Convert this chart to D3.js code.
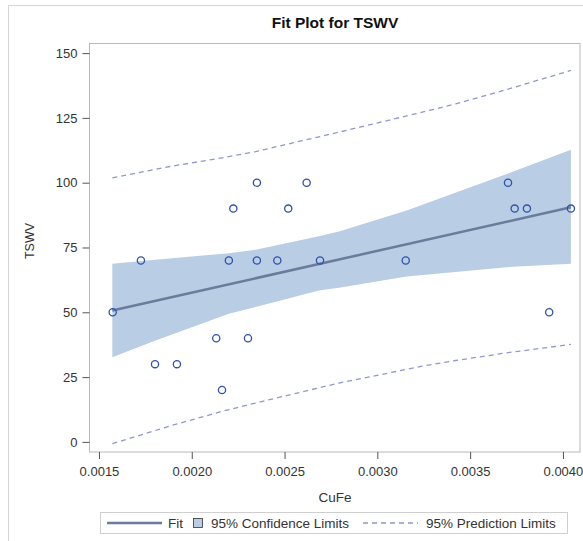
<!DOCTYPE html>
<html>
<head>
<meta charset="utf-8">
<script src="https://cdnjs.cloudflare.com/ajax/libs/d3/7.8.5/d3.min.js"></script>
<style>
  body { margin: 0; background: #fff; }
  text { font-family: "Liberation Sans", Arial, sans-serif; }
</style>
</head>
<body>
<div id="chart"></div>
<script>
// observed data
const cuFe = [0.001574, 0.001726, 0.001802, 0.00192, 0.002132, 0.002163, 0.0022, 0.002224,
  0.002303, 0.002351, 0.002351, 0.002461, 0.00252, 0.002619, 0.002691, 0.003153,
  0.003704, 0.00374, 0.003806, 0.003926, 0.004043];
const tswv = [50, 70, 30, 30, 40, 20, 70, 90, 40, 100, 70, 70, 90, 100, 70, 70,
  100, 90, 90, 50, 90];

// fit line
const fitX = [0.001572, 0.004043];
const fitY = [50.7, 90.5];

// 95% confidence band
const clX = [0.001572, 0.001805, 0.0022, 0.002344, 0.002685, 0.002793, 0.003158, 0.003697, 0.004043];
const clUpper = [68.7, 70.3, 72.8, 74.1, 79.3, 81.2, 89.3, 103.4, 112.7];
const clLower = [32.7, 39.1, 49.4, 52.0, 58.4, 59.5, 63.8, 67.4, 68.7];

// 95% prediction limits
const plX = [0.001572, 0.001895, 0.002164, 0.002344, 0.002793, 0.003242, 0.003422, 0.003691, 0.004043];
const plUpper = [101.9, 106.4, 109.6, 112.0, 119.5, 127.2, 130.4, 135.8, 143.3];
const plLower = [-0.7, 6.4, 11.8, 15.0, 22.7, 29.2, 31.4, 34.3, 37.6];

const xTicks = [0.0015, 0.002, 0.0025, 0.003, 0.0035, 0.004];
const yTicks = [0, 25, 50, 75, 100, 125, 150];

const width = 583;
const height = 541;
const margin = { left: 89.5, right: 3, top: 43.5, bottom: 89 };

const svg = d3.select('#chart')
  .append('svg')
  .attr('width', width)
  .attr('height', height);

// outer border
svg.append('path')
  .attr('d', `M8.5,${height} V5.5 H${width}`)
  .attr('fill', 'none')
  .attr('stroke', '#d4d4d4');

const x = d3.scaleLinear()
  .domain([0.001449, 0.004092])
  .range([margin.left, width - margin.right]);

const y = d3.scaleLinear()
  .domain([-3.9, 153.7])
  .range([height - margin.bottom, margin.top]);

svg.append('defs').append('clipPath')
  .attr('id', 'clip')
  .append('rect')
  .attr('x', margin.left)
  .attr('y', margin.top)
  .attr('width', x.range()[1] - margin.left)
  .attr('height', y.range()[0] - margin.top);

const plot = svg.append('g').attr('clip-path', 'url(#clip)');

// confidence band
const band = d3.area()
  .x((d, i) => x(clX[i]))
  .y0((d, i) => y(clLower[i]))
  .y1((d, i) => y(clUpper[i]));

plot.append('path')
  .attr('d', band(clX))
  .attr('fill', '#b9cde5');

// prediction limits
const plLine = vals => d3.line()
  .x((d, i) => x(plX[i]))
  .y((d, i) => y(vals[i]))(plX);

[plUpper, plLower].forEach(vals => {
  plot.append('path')
    .attr('d', plLine(vals))
    .attr('fill', 'none')
    .attr('stroke', '#8f98cc')
    .attr('stroke-width', 1.3)
    .attr('stroke-dasharray', '5,4');
});

// fit line
plot.append('path')
  .attr('d', d3.line().x((d, i) => x(fitX[i])).y((d, i) => y(fitY[i]))(fitX))
  .attr('fill', 'none')
  .attr('stroke', '#6a7b9b')
  .attr('stroke-width', 2.5);

// observations
svg.append('g')
  .selectAll('circle')
  .data(cuFe)
  .enter()
  .append('circle')
  .attr('cx', d => x(d))
  .attr('cy', (d, i) => y(tswv[i]))
  .attr('r', 3.6)
  .attr('fill', 'none')
  .attr('stroke', '#2f52ab')
  .attr('stroke-width', 1.3);

// frame
svg.append('rect')
  .attr('x', margin.left)
  .attr('y', margin.top)
  .attr('width', x.range()[1] - margin.left)
  .attr('height', y.range()[0] - margin.top)
  .attr('fill', 'none')
  .attr('stroke', '#b8b8b8');

// axes
const xAxis = svg.append('g')
  .attr('transform', `translate(0,${y.range()[0]})`)
  .call(d3.axisBottom(x).tickValues(xTicks).tickFormat(d3.format('.4f')).tickSize(7).tickPadding(8));

const yAxis = svg.append('g')
  .attr('transform', `translate(${margin.left},0)`)
  .call(d3.axisLeft(y).tickValues(yTicks).tickSize(7).tickPadding(5));

[xAxis, yAxis].forEach(g => {
  g.select('.domain').remove();
  g.selectAll('.tick line').attr('stroke', '#555');
  g.selectAll('.tick text')
    .attr('fill', '#333')
    .style('font-size', '13px')
    .style('font-family', '"Liberation Sans", Arial, sans-serif');
});

// title & labels
svg.append('text')
  .attr('x', 335)
  .attr('y', 28)
  .attr('text-anchor', 'middle')
  .style('font-size', '15.5px')
  .style('font-weight', 'bold')
  .attr('fill', '#111')
  .text('Fit Plot for TSWV');

svg.append('text')
  .attr('x', 335)
  .attr('y', 502)
  .attr('text-anchor', 'middle')
  .style('font-size', '13.5px')
  .attr('fill', '#333')
  .text('CuFe');

svg.append('text')
  .attr('transform', 'translate(33.5,241) rotate(-90)')
  .attr('text-anchor', 'middle')
  .style('font-size', '12.5px')
  .attr('fill', '#333')
  .text('TSWV');

// legend
const legend = svg.append('g');
legend.append('rect')
  .attr('x', 100.5).attr('y', 512.5)
  .attr('width', 467).attr('height', 21)
  .attr('fill', 'none')
  .attr('stroke', '#cfcfcf');

legend.append('line')
  .attr('x1', 107).attr('x2', 162).attr('y1', 523).attr('y2', 523)
  .attr('stroke', '#6a7b9b').attr('stroke-width', 2.5);
legend.append('text').attr('x', 168).attr('y', 528).text('Fit');

legend.append('rect')
  .attr('x', 193.5).attr('y', 518.5).attr('width', 9).attr('height', 9)
  .attr('fill', '#b9cde5').attr('stroke', '#333').attr('stroke-width', 0.8);
legend.append('text').attr('x', 211).attr('y', 528).text('95% Confidence Limits');

legend.append('line')
  .attr('x1', 363).attr('x2', 418).attr('y1', 523).attr('y2', 523)
  .attr('stroke', '#8f98cc').attr('stroke-width', 1.3).attr('stroke-dasharray', '5,4');
legend.append('text').attr('x', 426).attr('y', 528).text('95% Prediction Limits');

legend.selectAll('text').style('font-size', '13.5px').attr('fill', '#333');
</script>
</body>
</html>
